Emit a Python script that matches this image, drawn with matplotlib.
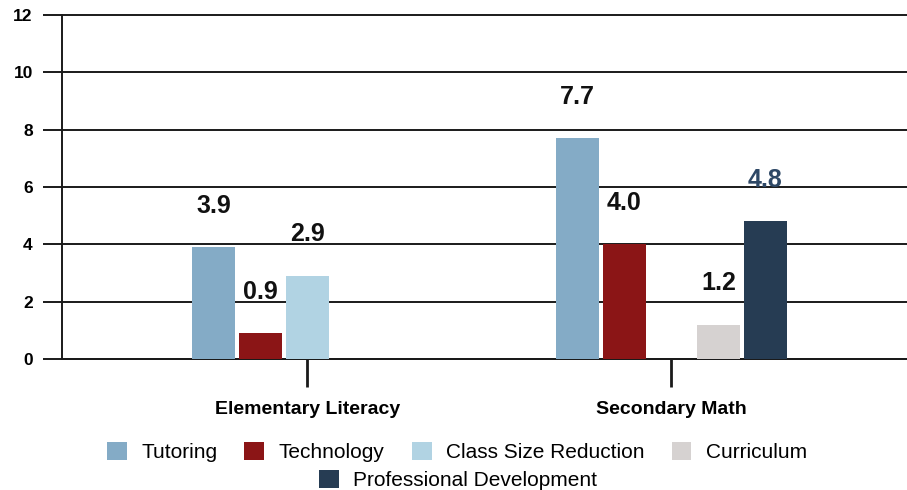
import numpy as np
import matplotlib
matplotlib.use("Agg")
import matplotlib.pyplot as plt
from matplotlib.patches import Patch

plt.rcParams["font.family"] = ["Liberation Sans", "DejaVu Sans"]

# -- data --
groups = ["Elementary Literacy", "Secondary Math"]
series = ["Tutoring", "Technology", "Class Size Reduction", "Curriculum",
          "Professional Development"]
tutoring = [3.9, 7.7]
technology = [0.9, 4.0]
class_size = [2.9, np.nan]
curriculum = [np.nan, 1.2]
prof_dev = [np.nan, 4.8]
values = [tutoring, technology, class_size, curriculum, prof_dev]

colors = ["#84abc6", "#8b1516", "#b1d3e3", "#d6d2d1", "#263c53"]
label_colors = ["#111111", "#111111", "#111111", "#111111", "#2e4866"]

W, H = 907, 490
fig = plt.figure(figsize=(W / 100, H / 100), dpi=100)
ax = fig.add_axes([62 / W, 1 - 359 / H, (W - 62) / W, (359 - 15) / H])

slot = 0.129
width = 0.118
x = np.arange(len(groups))
for i, (name, vals) in enumerate(zip(series, values)):
    pos = x + (i - 2) * slot
    ax.bar(pos, vals, width=width, color=colors[i], label=name, zorder=3)
    for px, v in zip(pos, vals):
        if np.isnan(v):
            continue
        ax.text(px, v + 1.45, f"{v:.1f}", ha="center", va="center",
                fontsize=18, fontweight="bold", color=label_colors[i], zorder=4)

ax.set_ylim(0, 12)
ax.set_xlim(-0.674, 1.647)
ax.set_yticks(range(0, 13, 2))
ax.yaxis.grid(True, color="#1a1a1a", linewidth=1.4, zorder=1)
for gl in ax.get_ygridlines():
    gl.set_clip_on(False)
ax.set_axisbelow(True)
ax.tick_params(axis="y", length=14, width=1.4, color="#1a1a1a", pad=7,
               labelsize=12.5)
for lab in ax.get_yticklabels():
    lab.set_fontweight("bold")

ax.set_xticks(x)
ax.set_xticklabels(groups, fontsize=14, fontweight="bold")
ax.tick_params(axis="x", length=20, width=2, color="#1a1a1a", pad=10)

for side in ["top", "right"]:
    ax.spines[side].set_visible(False)
ax.spines["left"].set_color("#1a1a1a")
ax.spines["left"].set_linewidth(1.4)
ax.spines["bottom"].set_color("#1a1a1a")
ax.spines["bottom"].set_linewidth(1.4)

# legend: four entries on the first row, the last one centred below
handles = [Patch(facecolor=c, edgecolor="none", label=s)
           for c, s in zip(colors, series)]
leg_kw = dict(frameon=False, fontsize=15, handlelength=0.95, handleheight=0.95,
              handletextpad=0.7, columnspacing=1.3, borderaxespad=0, borderpad=0)
fig.legend(handles=handles[:4], ncol=4, loc="center",
           bbox_to_anchor=(457 / W, 1 - 452 / H), **leg_kw)
fig.legend(handles=handles[4:], ncol=1, loc="center",
           bbox_to_anchor=(458 / W, 1 - 480 / H), **leg_kw)

fig.savefig("out.png", dpi=100)
